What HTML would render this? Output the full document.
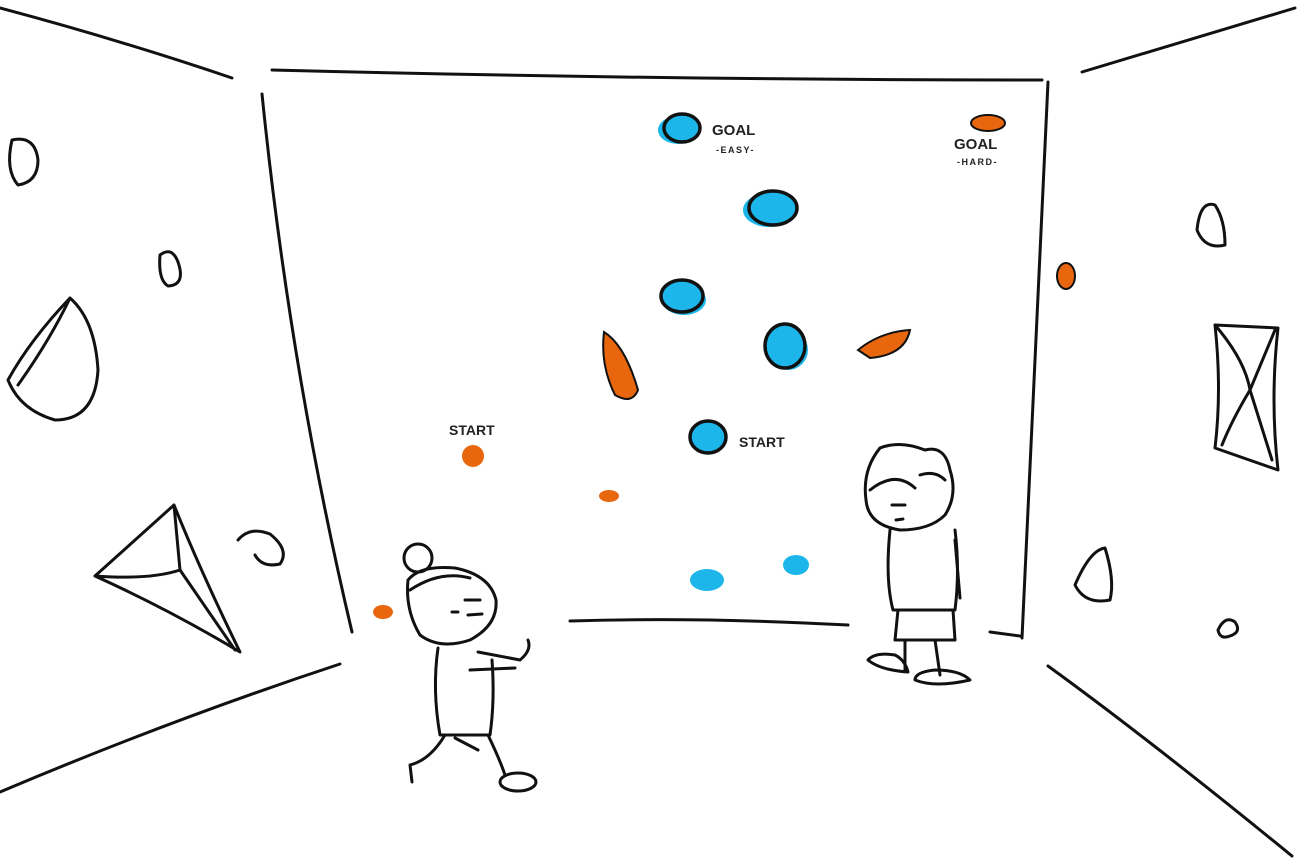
<!DOCTYPE html>
<html><head><meta charset="utf-8"><style>
html,body{margin:0;padding:0;background:#fff;width:1300px;height:858px;overflow:hidden}
svg{display:block}
text{font-family:"Liberation Sans",sans-serif;fill:#222;font-weight:bold}
</style></head><body>
<svg width="1300" height="858" viewBox="0 0 1300 858" xmlns="http://www.w3.org/2000/svg">
<g fill="none" stroke="#111" stroke-width="3" stroke-linecap="round" stroke-linejoin="round">
<path d="M0 8 Q120 40 232 78"/>
<path d="M272 70 Q660 80 1042 80"/>
<path d="M1082 72 Q1190 40 1295 8"/>
<path d="M262 94 Q290 370 352 632"/>
<path d="M1048 82 Q1035 360 1022 638"/>
<path d="M570 621 Q700 617 848 625"/>
<path d="M990 632 L1020 636"/>
<path d="M0 792 Q170 720 340 664"/>
<path d="M1048 666 Q1150 740 1292 856"/>
<path d="M12 140 Q35 135 38 160 Q38 182 18 185 Q5 170 12 140Z"/>
<path d="M160 255 Q172 246 178 262 Q186 285 168 286 Q158 280 160 255Z"/>
<path d="M70 298 Q95 320 98 370 Q95 420 55 420 Q20 410 8 380 Q30 340 70 298Z M70 298 Q50 340 18 385"/>
<path d="M95 576 L174 505 Q200 570 240 652 Q170 610 95 576Z M174 505 L180 570 Q150 580 95 576 M180 570 L235 650"/>
<path d="M238 540 Q250 526 270 534 Q290 550 280 564 Q262 568 255 555"/>
<path d="M1197 230 Q1200 200 1215 205 Q1225 220 1225 245 Q1205 250 1197 230Z"/>
<path d="M1215 325 L1278 328 Q1270 400 1278 470 L1215 448 Q1222 390 1215 325Z M1215 325 Q1245 360 1250 390 Q1232 420 1222 445 M1250 390 L1275 330 M1250 390 L1272 460"/>
<path d="M1075 585 Q1090 550 1105 548 Q1115 580 1110 600 Q1085 605 1075 585Z"/>
<path d="M1218 630 Q1225 615 1235 622 Q1242 632 1230 636 Q1220 640 1218 630Z"/>
<circle cx="418" cy="558" r="14"/>
<path d="M408 580 Q420 565 455 568 Q490 575 496 600 Q498 625 470 640 Q440 650 420 635 Q405 610 408 580Z"/>
<path d="M410 590 Q440 570 470 578"/>
<path d="M465 600 L480 600 M468 615 L482 614 M452 612 L458 612"/>
<path d="M438 648 Q432 690 440 735 L490 735 Q495 700 492 660"/>
<path d="M478 652 L520 660 Q532 650 528 640 M470 670 L515 668"/>
<path d="M445 735 Q430 760 410 765 L412 782 M455 738 L478 750 M488 735 Q500 760 505 775"/>
<ellipse cx="518" cy="782" rx="18" ry="9"/>
<path d="M880 448 Q900 440 925 450 Q945 445 950 470 Q958 495 945 515 Q930 530 900 530 Q868 525 866 500 Q862 470 880 448Z"/>
<path d="M870 490 Q895 470 915 488 M920 475 Q935 470 945 480"/>
<path d="M892 505 L905 505 M896 520 L903 519"/>
<path d="M890 530 Q885 580 893 610 L955 610 Q960 570 955 530"/>
<path d="M955 540 L960 598 M898 610 L895 640 L955 640 L953 610"/>
<path d="M905 640 L905 670 M935 640 L940 675"/>
<path d="M868 660 Q880 670 908 672 Q905 660 895 655 Q875 652 868 660Z"/>
<path d="M915 680 Q935 688 970 680 Q960 670 935 670 Q915 672 915 680Z"/>
</g>
<g fill="#1cb6ea">
<ellipse cx="678" cy="130" rx="20" ry="14"/>
<ellipse cx="769" cy="210" rx="26" ry="17"/>
<ellipse cx="684" cy="300" rx="22" ry="15"/>
<ellipse cx="788" cy="350" rx="20" ry="20"/>
</g>
<g fill="#1cb6ea" stroke="#111" stroke-width="3.5">
<ellipse cx="682" cy="128" rx="18" ry="14"/>
<ellipse cx="773" cy="208" rx="24" ry="17"/>
<ellipse cx="682" cy="296" rx="21" ry="16"/>
<ellipse cx="785" cy="346" rx="20" ry="22"/>
<ellipse cx="708" cy="437" rx="18" ry="16"/>
</g>
<g fill="#1cb6ea" stroke="none">
<ellipse cx="707" cy="580" rx="17" ry="11"/>
<ellipse cx="796" cy="565" rx="13" ry="10"/>
</g>
<g fill="#e8670e" stroke="#111" stroke-width="2">
<ellipse cx="988" cy="123" rx="17" ry="8"/>
<path d="M604 332 Q625 345 638 390 Q632 405 615 395 Q600 365 604 332Z"/>
<path d="M858 350 Q880 332 910 330 Q905 355 870 358Z"/>
<ellipse cx="1066" cy="276" rx="9" ry="13"/>
</g>
<g fill="#e8670e">
<ellipse cx="473" cy="456" rx="11" ry="11"/>
<ellipse cx="609" cy="496" rx="10" ry="6"/>
<ellipse cx="383" cy="612" rx="10" ry="7"/>
</g>
<text x="712" y="135" font-size="15">GOAL</text>
<text x="716" y="153" font-size="9" letter-spacing="1.5">-EASY-</text>
<text x="954" y="149" font-size="15">GOAL</text>
<text x="957" y="165" font-size="9" letter-spacing="1.5">-HARD-</text>
<text x="449" y="435" font-size="14">START</text>
<text x="739" y="447" font-size="14">START</text>
</svg>
</body></html>
